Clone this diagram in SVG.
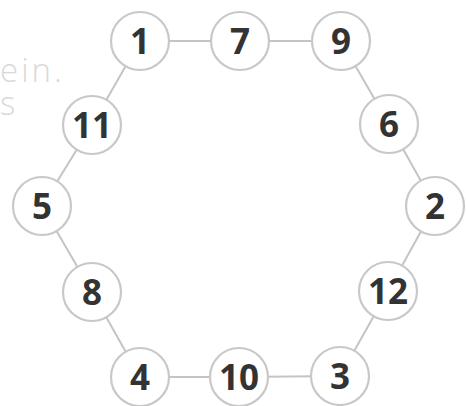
<svg xmlns="http://www.w3.org/2000/svg" width="466" height="406" viewBox="0 0 466 406">
<style>
.edge{stroke:#c4c4c4;stroke-width:2;fill:none}
.node circle{fill:#fff;stroke:#c8c8c8;stroke-width:2.2}
.node text{font-family:"Open Sans","DejaVu Sans",sans-serif;font-weight:700;font-size:35px;fill:#333;text-anchor:middle}
.bg{font-family:"Open Sans","DejaVu Sans",sans-serif;font-weight:300;font-size:33px;fill:#d9d9d9;letter-spacing:3px}
</style>
<rect width="466" height="406" fill="#fff"/>
<text class="bg" x="0" y="82">ein.</text>
<text class="bg" x="0" y="115">s</text>
<g id="connectors">
<line class="edge" x1="140" y1="41" x2="240" y2="41"/>
<line class="edge" x1="240" y1="41" x2="341" y2="41"/>
<line class="edge" x1="341" y1="41" x2="389" y2="124"/>
<line class="edge" x1="389" y1="124" x2="435" y2="206"/>
<line class="edge" x1="435" y1="206" x2="388" y2="291"/>
<line class="edge" x1="388" y1="291" x2="340" y2="376"/>
<line class="edge" x1="340" y1="376" x2="239" y2="377"/>
<line class="edge" x1="239" y1="377" x2="140" y2="377"/>
<line class="edge" x1="140" y1="377" x2="92" y2="292"/>
<line class="edge" x1="92" y1="292" x2="42" y2="206"/>
<line class="edge" x1="42" y1="206" x2="92" y2="125"/>
<line class="edge" x1="92" y1="125" x2="140" y2="41"/>
</g>
<g id="n1" class="node"><circle cx="140" cy="41" r="29"/><text x="140" y="53.5">1</text></g>
<g id="n7" class="node"><circle cx="240" cy="41" r="29"/><text x="240" y="53.5">7</text></g>
<g id="n9" class="node"><circle cx="341" cy="41" r="29"/><text x="341" y="53.5">9</text></g>
<g id="n6" class="node"><circle cx="389" cy="124" r="29"/><text x="389" y="136.5">6</text></g>
<g id="n2" class="node"><circle cx="435" cy="206" r="29"/><text x="435" y="218.5">2</text></g>
<g id="n12" class="node"><circle cx="388" cy="291" r="29"/><text x="388" y="303.5">12</text></g>
<g id="n3" class="node"><circle cx="340" cy="376" r="29"/><text x="340" y="388.5">3</text></g>
<g id="n10" class="node"><circle cx="239" cy="377" r="29"/><text x="239" y="389.5">10</text></g>
<g id="n4" class="node"><circle cx="140" cy="377" r="29"/><text x="140" y="389.5">4</text></g>
<g id="n8" class="node"><circle cx="92" cy="292" r="29"/><text x="92" y="304.5">8</text></g>
<g id="n5" class="node"><circle cx="42" cy="206" r="29"/><text x="42" y="218.5">5</text></g>
<g id="n11" class="node"><circle cx="92" cy="125" r="29"/><text x="92" y="137.5">11</text></g>
</svg>
